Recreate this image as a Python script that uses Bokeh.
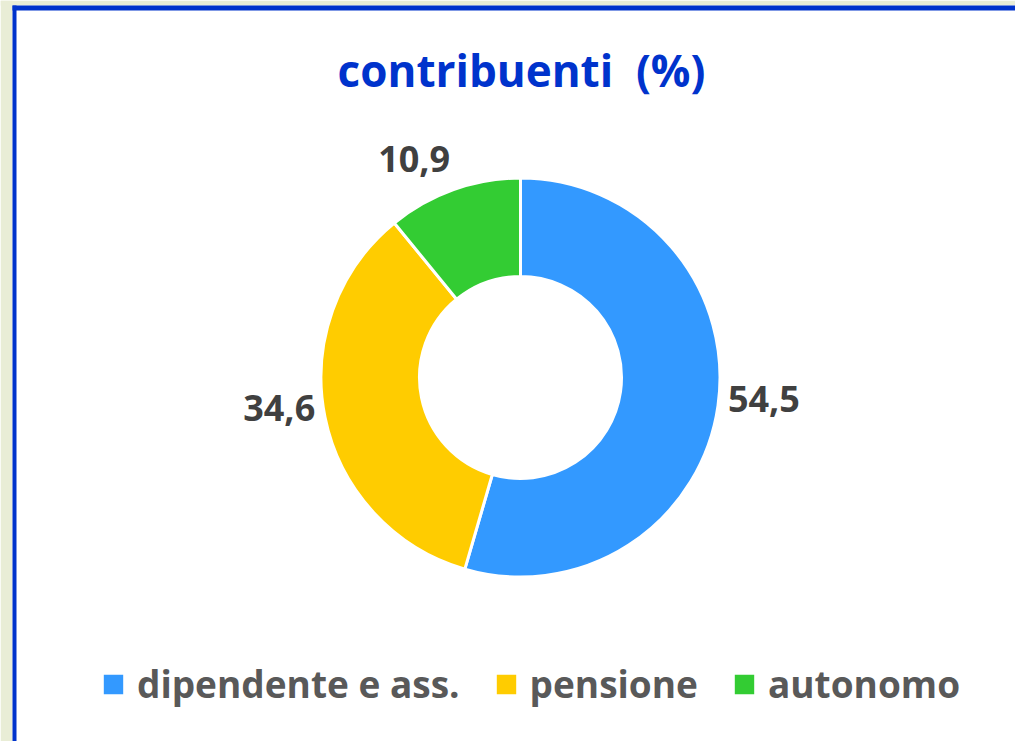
import math
from bokeh.plotting import figure
from bokeh.models import ColumnDataSource, Range1d, Legend, LegendItem, Label, BoxAnnotation
from bokeh.core.properties import value
from bokeh.embed import file_html
from bokeh.resources import INLINE

# ---- data ----
title_text = "contribuenti  (%)"
categories = ["dipendente e ass.", "pensione", "autonomo"]
values = [54.5, 34.6, 10.9]
value_labels = ["54,5", "34,6", "10,9"]
colors = ["#3399FF", "#FFCC00", "#33CC33"]

# ---- layout (page pixels) ----
W, H = 1015, 741


def Y(page_y):
    return H - page_y


cx, cy = 520, Y(377)
r_out, r_in = 199.5, 101
gap_x, gap_y = 10, 19
side_flatten = 0.7  # side labels sit closer to the horizontal

total = sum(values)
starts, ends, lx, ly, aligns, baselines = [], [], [], [], [], []
cum = 0.0
for v in values:
    a0 = math.pi / 2 - 2 * math.pi * cum / total
    cum += v
    a1 = math.pi / 2 - 2 * math.pi * cum / total
    starts.append(a0)
    ends.append(a1)
    m = (a0 + a1) / 2
    c, s = math.cos(m), math.sin(m)
    align = "left" if c > 0.3 else ("right" if c < -0.3 else "center")
    base = "bottom" if s > 0.3 else ("top" if s < -0.3 else "middle")
    lx.append(cx + (r_out + gap_x) * c)
    dy = (r_out + gap_y) * s
    if base == "middle":
        dy *= side_flatten
    ly.append(cy + dy)
    aligns.append(align)
    baselines.append(base)

src = ColumnDataSource(dict(cat=categories, val=values, start=starts, end=ends,
                            color=colors))
lab_src = ColumnDataSource(dict(x=lx, y=ly, text=value_labels, align=aligns,
                                baseline=baselines))

p = figure(width=W, height=H, x_range=Range1d(0, W), y_range=Range1d(0, H),
           output_backend="svg", toolbar_location=None, min_border=0,
           x_axis_type=None, y_axis_type=None)
p.grid.visible = False
p.outline_line_color = None
p.background_fill_color = "white"
p.border_fill_color = "white"

# page frame (greenish slide background + blue border)
bg = "#E9EDD6"
blue = "#0033CC"
p.add_layout(BoxAnnotation(left=0, right=12, fill_color=bg, fill_alpha=1, line_alpha=0))
p.add_layout(BoxAnnotation(bottom=Y(5), left=0, fill_color=bg, fill_alpha=1, line_alpha=0))
p.add_layout(BoxAnnotation(left=12, right=16, top=Y(5), fill_color=blue, fill_alpha=1, line_alpha=0))
p.add_layout(BoxAnnotation(left=12, bottom=Y(10), top=Y(5), fill_color=blue, fill_alpha=1, line_alpha=0))

# donut
r = p.annular_wedge(x=cx, y=cy, inner_radius=r_in, outer_radius=r_out,
                    start_angle="start", end_angle="end", direction="clock",
                    fill_color="color", line_color="white", line_width=3,
                    source=src)

# data labels
p.text(x="x", y="y", text="text", source=lab_src, text_align="align",
       text_baseline="baseline", text_font=value("Open Sans"),
       text_font_style="bold", text_font_size="36px", text_color="#404040")

# title (keep the double space visible in SVG)
p.add_layout(Label(x=521, y=Y(69), text=title_text.replace("  ", "\u00a0 "),
                   text_align="center", text_baseline="alphabetic",
                   text_font="Open Sans", text_font_style="bold",
                   text_font_size="44px", text_color=blue))

# legend
items = [LegendItem(label=categories[i], renderers=[r], index=i) for i in range(len(categories))]
legend = Legend(items=items, orientation="horizontal", location=(99, Y(709)),
                glyph_width=28, glyph_height=28, label_standoff=10, spacing=32,
                padding=0, margin=0, border_line_color=None,
                background_fill_alpha=0,
                label_text_font="Open Sans", label_text_font_style="bold",
                label_text_font_size="37px", label_text_color="#595959")
p.add_layout(legend)

open("out.html", "w").write(file_html(p, INLINE))
